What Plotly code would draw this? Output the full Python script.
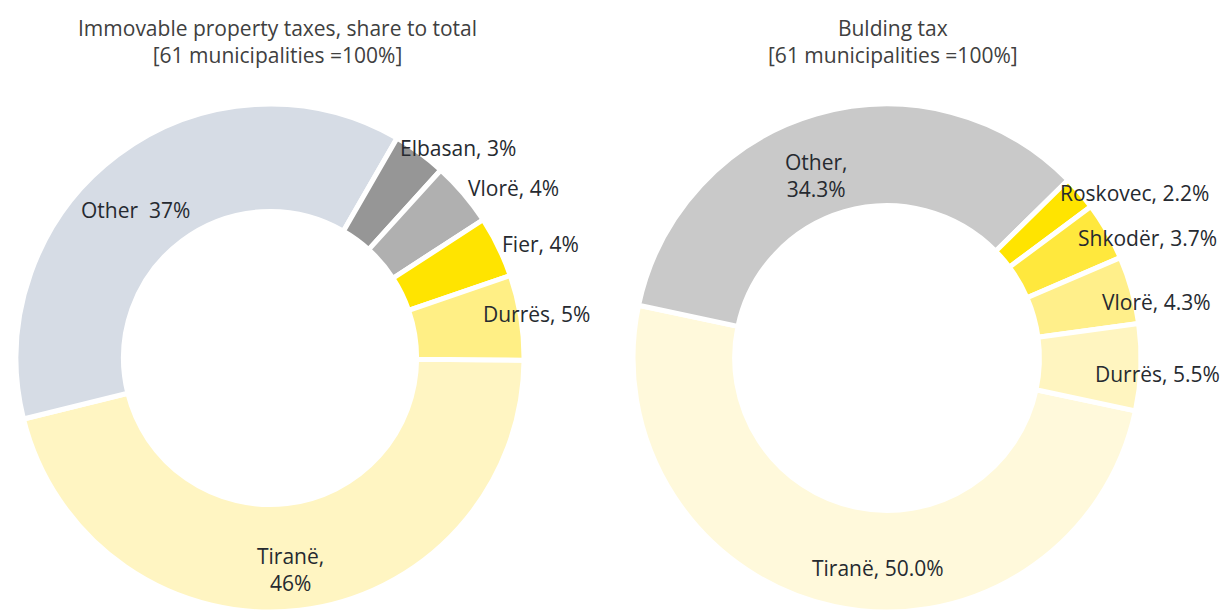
import math
import plotly.graph_objects as go

# ---------------- data ----------------
left_labels = ["Tiranë", "Other", "Elbasan", "Vlorë", "Fier", "Durrës"]
left_values = [46.0, 37.2, 3.4, 4.1, 3.9, 5.4]
left_text = ["Tiranë,<br>46%", "Other  37%", "Elbasan, 3%", "Vlorë, 4%", "Fier, 4%", "Durrës, 5%"]
left_title = "Immovable property taxes, share to total<br>[61 municipalities =100%]"

right_labels = ["Tiranë", "Other", "Roskovec", "Shkodër", "Vlorë", "Durrës"]
right_values = [50.0, 34.3, 2.2, 3.7, 4.3, 5.5]
right_text = ["Tiranë, 50.0%", "Other,<br>34.3%", "Roskovec, 2.2%", "Shkodër, 3.7%", "Vlorë, 4.3%", "Durrës, 5.5%"]
right_title = "Bulding tax<br>[61 municipalities =100%]"

# ---------------- style ----------------
# page body has an 8px margin, so the figure is drawn 8px in from the window edge
OFF = 8
W, H = 1228 - OFF, 612 - OFF
FONT = "Open Sans"
FS = 21
left_colors = ["#FFF5C2", "#D6DCE5", "#969696", "#B0B0B0", "#FFE400", "#FFEF85"]
right_colors = ["#FFF9DB", "#C9C9C9", "#FFE400", "#FFE83D", "#FFEF8A", "#FFF5C0"]

left_dom = dict(x=[0.0066, 0.4230], y=[0.0, 0.841])
right_dom = dict(x=[0.5123, 0.9287], y=[0.0, 0.841])
left_rot, right_rot = 90.5, 102
left_hole, right_hole = 0.577, 0.6

# per-label radial factor and pixel nudges (dx right, dy down)
left_lab_style = [(0.84, -4, 0), (0.79, -14, 12), (1.1, 23, 16), (1.1, 31, 11), (1.1, 19, 8), (1.1, -9, 1)]
right_lab_style = [(0.82, 34, 6), (0.75, -17, 0), (1.1, 35, 17), (1.1, 18, 19), (1.1, 0, 19), (1.1, -9, 6)]

fig = go.Figure()
for labels, values, colors, dom, rot, hole in [
    (left_labels, left_values, left_colors, left_dom, left_rot, left_hole),
    (right_labels, right_values, right_colors, right_dom, right_rot, right_hole),
]:
    fig.add_trace(go.Pie(
        labels=labels, values=values, sort=False, direction="clockwise",
        rotation=rot, hole=hole, domain=dom,
        marker=dict(colors=colors, line=dict(color="white", width=5)),
        textinfo="none", hoverinfo="label+value", showlegend=False,
    ))


def add_labels(values, texts, dom, rot, styles):
    cx = (dom["x"][0] + dom["x"][1]) / 2 * W
    cy_b = (dom["y"][0] + dom["y"][1]) / 2 * H
    R = min((dom["x"][1] - dom["x"][0]) * W, (dom["y"][1] - dom["y"][0]) * H) / 2
    total = sum(values)
    start = rot
    for v, t, (rf, dx, dy) in zip(values, texts, styles):
        span = v / total * 360
        mid = math.radians(start + span / 2)
        start += span
        px = cx + rf * R * math.sin(mid) + dx
        py = cy_b + rf * R * math.cos(mid) - dy
        fig.add_annotation(x=px / W, y=py / H, xref="paper", yref="paper",
                           text=t, showarrow=False, xanchor="center", yanchor="middle",
                           font=dict(family=FONT, size=FS, color="#262A30"))


add_labels(left_values, left_text, left_dom, left_rot, left_lab_style)
add_labels(right_values, right_text, right_dom, right_rot, right_lab_style)

for title, xc in [(left_title, 277), (right_title, 893)]:
    fig.add_annotation(x=(xc - OFF) / W, y=1 - (41 - OFF) / H, xref="paper", yref="paper",
                       text=title, showarrow=False, xanchor="center", yanchor="middle",
                       font=dict(family=FONT, size=FS, color="#404040"))

fig.update_layout(width=W, height=H, margin=dict(l=0, r=0, t=0, b=0),
                  paper_bgcolor="white", plot_bgcolor="white",
                  font=dict(family=FONT))
fig.write_html("out.html")
